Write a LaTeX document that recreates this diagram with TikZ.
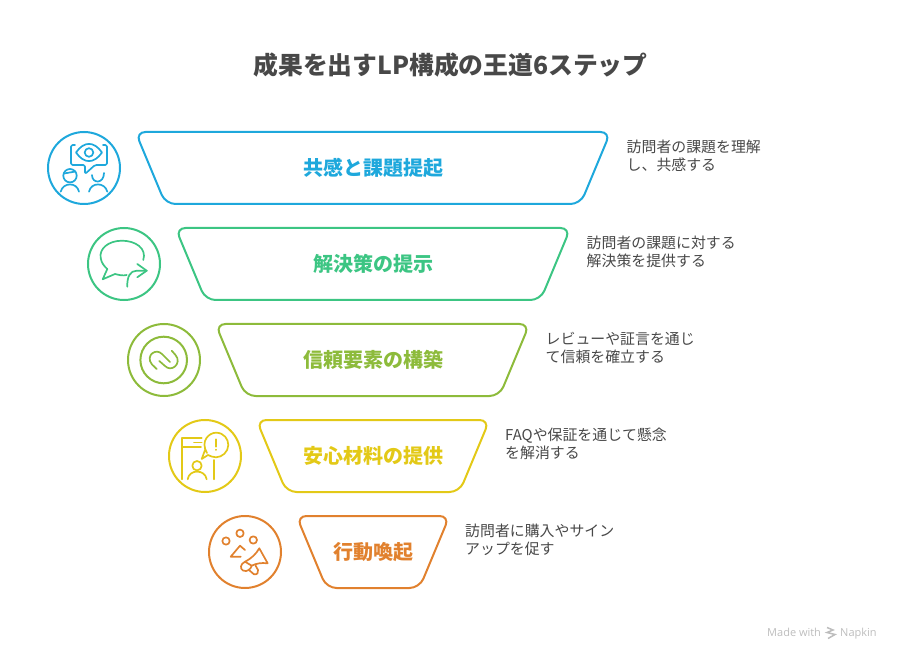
\documentclass[tikz,border=0pt]{standalone}
\usepackage{fontspec}
\setmainfont{Noto Sans CJK JP}
\newfontfamily\footfont{Open Sans}
\usepackage{xcolor}
\definecolor{stepblue}{HTML}{1EA8DC}
\definecolor{stepgreen}{HTML}{3CC583}
\definecolor{stepolive}{HTML}{8DBB3B}
\definecolor{stepyellow}{HTML}{E3C917}
\definecolor{steporange}{HTML}{E1812E}
\definecolor{textgray}{HTML}{484848}
\definecolor{footgray}{HTML}{BDBDBD}
\tikzset{
    funnel/.style={line width=2pt, rounded corners=10pt, line join=round},
    badge/.style={line width=2pt},
    glyph/.style={line width=1.7pt, line cap=round, line join=round},
    steplabel/.style={font=\fontsize{20}{24}\selectfont\bfseries},
    sidenote/.style={anchor=north west, align=left, inner sep=0pt, text=textgray,
        font=\fontsize{14.9}{18}\selectfont},
    footnote/.style={font=\footfont\fontsize{11}{12}\selectfont, text=footgray, anchor=base west, inner sep=0pt},
}
\begin{document}
\begin{tikzpicture}[x=1pt, y=-1pt]
    \useasboundingbox (0, 0) rectangle (900, 660);
    % Title
    \node [font=\fontsize{24.8}{28}\selectfont\bfseries, text=textgray] (title) at (450.5, 65)
        {成果を出すLP構成の王道6ステップ};
    % Funnel
    \draw [funnel, stepblue] (135.5, 132) -- (610.5, 132) -- (580.5, 204) -- (165.5, 204) -- cycle;
    \draw [funnel, stepgreen] (175.5, 228) -- (570.5, 228) -- (540.5, 300) -- (205.5, 300) -- cycle;
    \draw [funnel, stepolive] (215.5, 324) -- (529.5, 324) -- (499.5, 396) -- (245.5, 396) -- cycle;
    \draw [funnel, stepyellow] (256.5, 420) -- (489.5, 420) -- (459.5, 492) -- (286.5, 492) -- cycle;
    \draw [funnel, steporange] (296.5, 516) -- (449.5, 516) -- (419.5, 588) -- (326.5, 588) -- cycle;
    % Labels
    \node [steplabel, text=stepblue] (empathy) at (373, 168) {共感と課題提起};
    \node [steplabel, text=stepgreen] (solution) at (373, 264) {解決策の提示};
    \node [steplabel, text=stepolive] (trust) at (373, 360) {信頼要素の構築};
    \node [steplabel, text=stepyellow] (relief) at (373, 456) {安心材料の提供};
    \node [steplabel, text=steporange] (action) at (373, 552) {行動喚起};
    % Notes
    \node [sidenote] (noteone) at (626.5, 140) {訪問者の課題を理解\\し、共感する};
    \node [sidenote] (notetwo) at (586.5, 236) {訪問者の課題に対する\\解決策を提供する};
    \node [sidenote] (notethree) at (545.5, 332) {レビューや証言を通じ\\て信頼を確立する};
    \node [sidenote] (notefour) at (505, 428) {FAQや保証を通じて懸念\\を解消する};
    \node [sidenote] (notefive) at (465, 524) {訪問者に購入やサイン\\アップを促す};
    % Badges
    \draw [badge, stepblue] (84, 168) circle (36);
    \draw [badge, stepgreen] (124, 264) circle (36);
    \draw [badge, stepolive] (164, 360) circle (36);
    \draw [badge, stepyellow] (205, 456) circle (36);
    \draw [badge, steporange] (245, 552) circle (36);
    % Eye and two people
    \draw [glyph, stepblue, rounded corners=1.5pt] (75, 145) -- (71, 145) -- (71, 165) -- (85, 165)
        -- (85, 174) -- (95, 165) -- (107, 165) -- (107, 145) -- (103, 145);
    \draw [glyph, stepblue] (76, 152.5) .. controls (84, 141) and (94, 141) .. (102, 152.5)
        .. controls (94, 164) and (84, 164) .. (76, 152.5) -- cycle;
    \draw [glyph, stepblue] (89, 152.5) circle (4.3);
    \draw [glyph, stepblue] (70, 175.7) circle (6.7);
    \draw [glyph, stepblue] (64, 173.5) -- (75.5, 171.5);
    \draw [glyph, stepblue] (60.7, 191.7) .. controls (63, 182) and (77, 182) .. (79, 191.7);
    \draw [glyph, stepblue] (92, 175) .. controls (92, 184) and (104, 184) .. (104, 173);
    \draw [glyph, stepblue] (89, 191.7) .. controls (91, 182) and (105, 182) .. (107.3, 191.7);
    % Speech bubble and arrow
    \draw [glyph, stepgreen] (143.3, 260) .. controls (147, 248) and (135, 240.7) .. (122, 240.7)
        .. controls (108, 240.7) and (99, 249) .. (100.7, 258)
        .. controls (101.5, 263) and (104, 266) .. (107.3, 269) -- (102.7, 279.3)
        -- (115, 274) .. controls (119, 275) and (123, 276) .. (126.7, 275);
    \draw [glyph, stepgreen] (127.3, 286.7) .. controls (127, 277) and (130, 270.7) .. (136.7, 270.7)
        -- (146.7, 270.7);
    \draw [glyph, stepgreen] (137.3, 264) -- (146.7, 270.7) -- (137.3, 277.3);
    % Link
    \draw [badge, stepolive] (163.7, 360) circle (23.3);
    \draw [glyph, stepolive] (156.7, 369) -- (152, 364.5) .. controls (148, 360) and (150, 355) .. (152, 353.5)
        .. controls (155, 351) and (159, 351) .. (162, 354) -- (170, 362);
    \draw [glyph, stepolive] (171.7, 350.7) -- (175.5, 355) .. controls (179, 359) and (178, 364) .. (175, 366.5)
        .. controls (172, 369) and (168, 369) .. (165, 366) -- (159.3, 361);
    % Phone, bubble and person
    \draw [glyph, stepyellow] (182, 479.3) -- (182, 438.3) -- (201.7, 438.3);
    \draw [glyph, stepyellow] (182, 446.7) -- (201, 446.7);
    \draw [glyph, stepyellow] (194, 442.5) -- (201.7, 442.5);
    \draw [glyph, stepyellow] (214, 460) -- (214, 479.3);
    \draw [glyph, stepyellow] (207, 453) .. controls (200, 441) and (209, 432.7) .. (216, 432.7)
        .. controls (224, 432.7) and (228.3, 439) .. (228.3, 445)
        .. controls (228.3, 452) and (222, 457.3) .. (216, 457.3)
        .. controls (213, 457.3) and (210, 456) .. (208, 455) -- (201.7, 459) -- (205, 450);
    \draw [glyph, stepyellow] (216, 439.3) -- (216, 446.7);
    \draw [glyph, stepyellow] (216, 449.6) -- (216, 449.9);
    \draw [glyph, stepyellow] (197, 465.7) circle (4.7);
    \draw [glyph, stepyellow] (187.7, 479.3) .. controls (189, 469) and (205, 469) .. (206.7, 479.3);
    % People and megaphone
    \draw [glyph, steporange] (226, 541) circle (3.7);
    \draw [glyph, steporange] (240, 533.3) circle (3.7);
    \draw [glyph, steporange] (253.3, 540) circle (3.7);
    \draw [glyph, steporange] (245, 550) -- (240, 545.7) -- (230.7, 556.7) -- (240.7, 556.7);
    \draw [glyph, steporange] (245, 561.7) .. controls (252, 558) and (256, 554) .. (259.3, 548.3)
        -- (267.7, 563.3) .. controls (261, 562.5) and (256, 563.5) .. (251.7, 565.7);
    \draw [glyph, steporange] (245, 561.7) .. controls (240, 564) and (240, 569) .. (243, 570.5)
        .. controls (247, 572.5) and (251, 569) .. (251.7, 565.7) -- (245, 561.7);
    \draw [glyph, steporange] (249.5, 570.5) -- (254, 574.3) .. controls (257, 575) and (259, 572.5) .. (258, 570) -- (255.5, 565.5);
    % Footer
    \node [footnote] (made) at (767, 636.5) {Made with};
    \node [footnote] (napkin) at (840, 636.5) {Napkin};
    \draw [line width=1.5pt, footgray] (827, 627.5) -- (833, 630) -- (827, 632.5) -- (835, 634.5) -- (828, 638.5);
\end{tikzpicture}
\end{document}
